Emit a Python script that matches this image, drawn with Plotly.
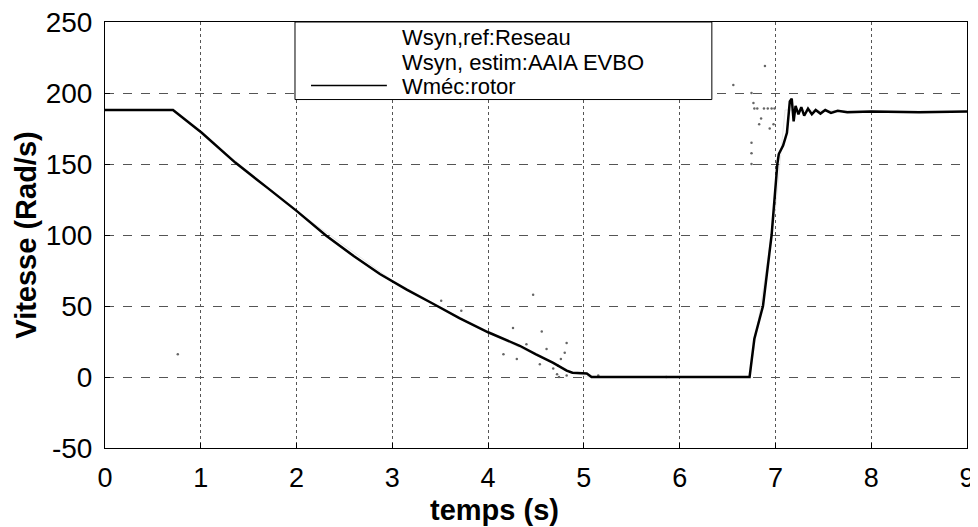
import plotly.graph_objects as go

# Wméc : rotor (vitesse mécanique)
t_rotor = [0, 0.71, 1.01, 1.36, 1.7, 2.0, 2.31, 2.6, 2.87, 3.15, 3.43, 3.7, 4.0, 4.33, 4.5,
           4.68, 4.82, 4.88, 5.03, 5.08,
           6.73, 6.78, 6.87, 6.96, 7.02, 7.035, 7.08, 7.12, 7.15, 7.17, 7.19, 7.21, 7.24,
           7.27, 7.30, 7.34, 7.38, 7.42, 7.47, 7.52, 7.58, 7.65, 7.75, 8.0, 8.5, 9.0]
w_rotor = [188, 188, 172, 151, 133, 117, 99.5, 85, 72.5, 61.5, 51.4, 41.5, 31.5, 22, 16,
           10, 4.5, 3, 2.5, 0,
           0, 27, 50, 100, 150, 157, 163, 172, 194, 196, 180, 191, 185,
           190, 184, 189, 185, 188, 185.5, 188, 186, 187.5, 186.5, 187, 186.5, 187]

# Wsyn, ref : réseau
t_ref = [0, 0.72, 1.0, 2.0, 3.0, 4.0, 4.9, 5.05, 6.73, 7.0, 7.1, 9.0]
w_ref = [188, 188, 172, 117, 68, 31, 3, 0, 0, 118, 188, 187]

# Wsyn, estim : AAIA EVBO (points épars)
t_est = [0.76, 3.51, 3.72, 4.16, 4.26, 4.3, 4.4, 4.47, 4.54, 4.56, 4.61, 4.68, 4.72, 4.73,
         4.74, 4.76, 4.8, 4.82, 4.82, 5.15, 5.86, 6.56, 6.75, 6.75, 6.75, 6.75, 6.77, 6.78,
         6.81, 6.85, 6.83, 6.88, 6.89, 6.92, 6.94, 6.96, 6.98, 6.99]
w_est = [16, 53.7, 46.7, 16, 34.5, 12.7, 23, 58, 9, 32, 19.7, 6, 2, 8,
         0, 12.7, 17, 24, 1, 1, 0, 205.6, 200, 165, 157.5, 150, 193, 189,
         189, 182, 178, 189, 219, 189, 175, 189, 178, 189]

legend_labels = ["Wsyn,ref:Reseau", "Wsyn, estim:AAIA EVBO", "Wméc:rotor"]

y_ticks = [-50, 0, 50, 100, 150, 200, 250]
y_ticktext = ["-50", "0", "50", "100", "150", "200", "250"]

fig = go.Figure()

fig.add_trace(go.Scatter(
    x=t_ref, y=w_ref, mode="lines", name=legend_labels[0],
    line=dict(color="#e8e8e8", width=1)
))
fig.add_trace(go.Scatter(
    x=t_est, y=w_est, mode="markers", name=legend_labels[1],
    marker=dict(color="#666666", size=2.5)
))
fig.add_trace(go.Scatter(
    x=t_rotor, y=w_rotor, mode="lines", name=legend_labels[2],
    line=dict(color="black", width=2.5)
))

# legend box drawn by hand (tight MATLAB-like line spacing)
fig.add_shape(type="rect", xref="paper", yref="paper", x0=0.2204, x1=0.704, y0=0.818, y1=1.0,
              line=dict(color="black", width=1), fillcolor="white", layer="above")
fig.add_shape(type="line", xref="paper", yref="paper", x0=0.239, x1=0.327, y0=0.851, y1=0.851,
              line=dict(color="black", width=1.5), layer="above")
for i, lab in enumerate(legend_labels):
    fig.add_annotation(
        xref="paper", yref="paper", x=0.342, y=0.963 - i * 0.0575,
        xanchor="left", yanchor="middle", showarrow=False, text=lab,
        font=dict(family="Liberation Sans", size=22, color="black")
    )

# x-axis title sits left of centre in the original
fig.add_annotation(
    xref="paper", yref="paper", x=0.452, y=-0.146, xanchor="center", yanchor="middle",
    showarrow=False, text="<b>temps (s)</b>",
    font=dict(family="Liberation Sans", size=29, color="black")
)

# the page puts the figure 8px in from the top-left corner
fig.update_layout(
    width=970, height=519,
    margin=dict(l=97, r=11, t=14, b=79),
    paper_bgcolor="white", plot_bgcolor="white",
    font=dict(family="Liberation Sans", color="black"),
    showlegend=False,
    xaxis=dict(
        range=[0, 9], dtick=1, automargin=False,
        tickfont=dict(family="Liberation Sans", size=27, color="black"),
        ticklabelstandoff=6, ticklabeloverflow="allow",
        showgrid=True, gridcolor="#555555", griddash="dot", gridwidth=1,
        zeroline=False, showline=True, linecolor="black", mirror=True,
        ticks="inside", ticklen=5, tickcolor="black"
    ),
    yaxis=dict(
        range=[-50, 250], tickvals=y_ticks, ticktext=y_ticktext, automargin=False,
        tickfont=dict(family="Liberation Sans", size=28, color="black"),
        ticklabelstandoff=6, ticklabeloverflow="allow",
        title=dict(text="<b>Vitesse (Rad/s)</b>", font=dict(family="Liberation Sans", size=29), standoff=0),
        showgrid=True, gridcolor="#555555", griddash="dash", gridwidth=1,
        zeroline=False, showline=True, linecolor="black", mirror=True,
        ticks="inside", ticklen=5, tickcolor="black"
    )
)

fig.write_html("out.html")
